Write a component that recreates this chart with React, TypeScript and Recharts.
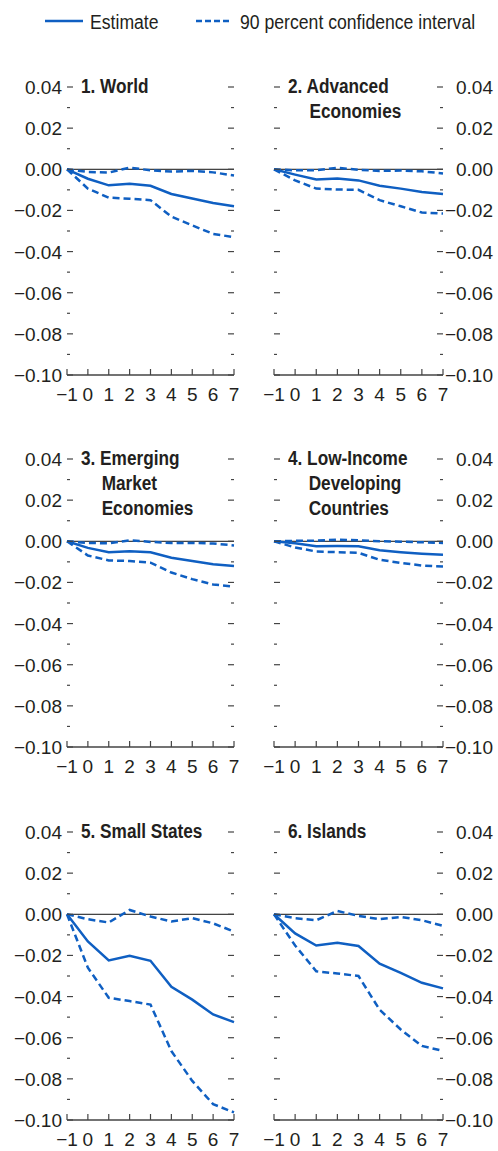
import { Line, LineChart, ReferenceLine, XAxis, YAxis } from 'recharts';

const HORIZON = [-1, 0, 1, 2, 3, 4, 5, 6, 7];
const Y_TICKS = [-0.1, -0.09, -0.08, -0.07, -0.06, -0.05, -0.04, -0.03, -0.02, -0.01, 0, 0.01, 0.02, 0.03, 0.04];

const WORLD_EST = [0, -0.0046, -0.0078, -0.007, -0.008, -0.012, -0.0142, -0.0164, -0.018];
const WORLD_LO = [0, -0.0094, -0.0138, -0.0143, -0.015, -0.023, -0.0273, -0.0314, -0.033];
const WORLD_HI = [0, -0.0013, -0.0016, 0.0008, -0.0005, -0.0011, -0.0008, -0.0015, -0.003];

const AE_EST = [0, -0.0026, -0.005, -0.0045, -0.0054, -0.008, -0.0094, -0.011, -0.012];
const AE_LO = [0, -0.0054, -0.0094, -0.0098, -0.01, -0.015, -0.018, -0.021, -0.0215];
const AE_HI = [0, -0.0005, -0.0005, 0.0007, -0.0002, -0.0008, -0.0006, -0.001, -0.002];

const EM_EST = [0, -0.0032, -0.0053, -0.0048, -0.0053, -0.008, -0.0096, -0.0112, -0.012];
const EM_LO = [0, -0.0069, -0.0093, -0.0096, -0.0104, -0.0152, -0.0184, -0.021, -0.022];
const EM_HI = [0, -0.0008, -0.001, 0.0005, -0.0003, -0.0008, -0.0008, -0.0011, -0.002];

const LIDC_EST = [0, -0.001, -0.0024, -0.0023, -0.0024, -0.0044, -0.0053, -0.006, -0.0066];
const LIDC_LO = [0, -0.003, -0.005, -0.0053, -0.0056, -0.009, -0.0105, -0.0118, -0.0123];
const LIDC_HI = [0, 0.0002, 0.0003, 0.0008, 0.0005, 0, -0.0002, -0.0005, -0.0008];

const SMALL_EST = [0, -0.0132, -0.0224, -0.0202, -0.0226, -0.0353, -0.0415, -0.0487, -0.0524];
const SMALL_LO = [0, -0.026, -0.0406, -0.0422, -0.0439, -0.0665, -0.081, -0.0923, -0.0963];
const SMALL_HI = [0, -0.0024, -0.004, 0.0021, -0.0011, -0.0035, -0.0019, -0.0044, -0.0084];

const ISL_EST = [0, -0.0093, -0.0152, -0.0138, -0.0154, -0.024, -0.0285, -0.0333, -0.036];
const ISL_LO = [0, -0.0152, -0.0277, -0.0288, -0.03, -0.0464, -0.056, -0.064, -0.0664];
const ISL_HI = [0, -0.0019, -0.0029, 0.0016, -0.0008, -0.0024, -0.0013, -0.0029, -0.0056];

const TITLES = [
  ['1. World'],
  ['2. Advanced', 'Economies'],
  ['3. Emerging', 'Market', 'Economies'],
  ['4. Low-Income', 'Developing', 'Countries'],
  ['5. Small States'],
  ['6. Islands'],
];

const LEGEND_EST = 'Estimate';
const LEGEND_CI = '90 percent confidence interval';

const BLUE = '#0f5fc2';
const INK = '#231f20';
const FONT = '"Liberation Sans", Arial, sans-serif';
// no narrow face installed, so squeeze Liberation Sans horizontally
const SQUEEZE = 0.84;

const MARGIN_TOP = 27;
const PLOT_H = 288;
const X_AXIS_H = 30;
const ROW_PLOT_TOPS = [87, 459, 832];

const fmt = (v: number) => {
  const s = Math.abs(v).toFixed(2);
  return v < -1e-9 ? '\u2212' + s : s;
};
const isMajor = (v: number) => Math.round(v * 100) % 2 === 0;

interface PanelProps {
  idx: number;
  est: number[];
  lo: number[];
  hi: number[];
}

function Panel({ idx, est, lo, hi }: PanelProps) {
  const col = idx % 2;
  const row = Math.floor(idx / 2);
  const left = col === 0 ? 0 : 250;
  const width = col === 0 ? 250 : 248;
  const leftW = col === 0 ? 67 : 24;
  const plotW = col === 0 ? 167 : 169;
  const rightW = width - leftW - plotW;
  const plotL = leftW;
  const plotR = leftW + plotW;
  const plotB = MARGIN_TOP + PLOT_H;
  const top = ROW_PLOT_TOPS[row] - MARGIN_TOP;
  const height = MARGIN_TOP + PLOT_H + X_AXIS_H;

  const data = HORIZON.map((t, i) => ({ t, est: est[i], lo: lo[i], hi: hi[i] }));

  const yTick = (side: 'left' | 'right', labelled: boolean) => (props: any) => {
    const { y, payload } = props;
    const v = payload.value as number;
    const len = isMajor(v) ? 6 : 3;
    const x0 = side === 'left' ? plotL : plotR;
    const x1 = side === 'left' ? plotL + len : plotR - len;
    return (
      <g>
        <line x1={x0} x2={x1} y1={y} y2={y} stroke="#444" strokeWidth={1.2} />
        {labelled && isMajor(v) && (
          <text
            x={side === 'left' ? plotL - 5 : width - 5}
            y={y}
            dy={7}
            textAnchor="end"
            fontSize={19}
            fontFamily={FONT}
            fill={INK}
          >
            {fmt(v)}
          </text>
        )}
      </g>
    );
  };

  const xTick = (props: any) => {
    const { x, payload } = props;
    return (
      <g>
        <line x1={x} x2={x} y1={plotB} y2={plotB - 6} stroke="#444" strokeWidth={1.2} />
        <text x={x} y={plotB + 26} textAnchor="middle" fontSize={19} fontFamily={FONT} fill={INK}>
          {payload.value < 0 ? '\u2212' + Math.abs(payload.value) : payload.value}
        </text>
      </g>
    );
  };

  const title = TITLES[idx];
  const titleLeft = col === 0 ? 81 : 288;
  const indent = idx === 1 ? 25 : 24;

  return (
    <div style={{ position: 'absolute', left, top, width, height }}>
      <LineChart width={width} height={height} data={data} margin={{ top: MARGIN_TOP, right: 0, bottom: 0, left: 0 }}>
        <XAxis
          dataKey="t"
          type="number"
          domain={[-1, 7]}
          ticks={HORIZON}
          interval={0}
          height={X_AXIS_H}
          tickLine={false}
          axisLine={{ stroke: '#444', strokeWidth: 1.5 }}
          tick={xTick}
        />
        <YAxis
          yAxisId="l"
          orientation="left"
          width={leftW}
          domain={[-0.1, 0.04]}
          ticks={Y_TICKS}
          interval={0}
          allowDataOverflow
          tickLine={false}
          axisLine={false}
          tick={yTick('left', col === 0)}
        />
        <YAxis
          yAxisId="r"
          orientation="right"
          width={rightW}
          domain={[-0.1, 0.04]}
          ticks={Y_TICKS}
          interval={0}
          allowDataOverflow
          tickLine={false}
          axisLine={false}
          tick={yTick('right', col === 1)}
        />
        <ReferenceLine yAxisId="l" y={0} stroke="#111" strokeWidth={1} />
        <Line yAxisId="l" dataKey="hi" type="linear" stroke={BLUE} strokeWidth={2.5} strokeDasharray="7 4" dot={false} isAnimationActive={false} />
        <Line yAxisId="l" dataKey="lo" type="linear" stroke={BLUE} strokeWidth={2.5} strokeDasharray="7 4" dot={false} isAnimationActive={false} />
        <Line yAxisId="l" dataKey="est" type="linear" stroke={BLUE} strokeWidth={2.5} dot={false} isAnimationActive={false} />
      </LineChart>
      <div
        style={{
          position: 'absolute',
          left: titleLeft - left,
          top: ROW_PLOT_TOPS[row] - top - 13,
          fontFamily: FONT,
          fontWeight: 'bold',
          fontSize: 20,
          lineHeight: '25px',
          color: INK,
          whiteSpace: 'nowrap',
          transform: `scaleX(${SQUEEZE + 0.02})`,
          transformOrigin: '0 0',
        }}
      >
        {title.map((t, i) => (
          <div key={t} style={{ paddingLeft: i === 0 ? 0 : indent }}>
            {t}
          </div>
        ))}
      </div>
    </div>
  );
}

export default function App() {
  const panels = [
    [WORLD_EST, WORLD_LO, WORLD_HI],
    [AE_EST, AE_LO, AE_HI],
    [EM_EST, EM_LO, EM_HI],
    [LIDC_EST, LIDC_LO, LIDC_HI],
    [SMALL_EST, SMALL_LO, SMALL_HI],
    [ISL_EST, ISL_LO, ISL_HI],
  ];
  return (
    <div style={{ position: 'absolute', left: 0, top: 0, width: 498, height: 1151, overflow: 'hidden', background: '#fff' }}>
      <svg width={498} height={40} style={{ position: 'absolute', left: 0, top: 0 }}>
        <line x1={45} x2={83} y1={21} y2={21} stroke={BLUE} strokeWidth={2.5} />
        <text transform={`translate(90,29) scale(${SQUEEZE},1)`} fontSize={21} fontFamily={FONT} fill={INK}>
          {LEGEND_EST}
        </text>
        <line x1={196} x2={231} y1={21} y2={21} stroke={BLUE} strokeWidth={2.5} strokeDasharray="6 3" />
        <text transform={`translate(240,29) scale(${SQUEEZE},1)`} fontSize={21} fontFamily={FONT} fill={INK}>
          {LEGEND_CI}
        </text>
      </svg>
      {panels.map(([e, l, h], i) => (
        <Panel key={i} idx={i} est={e} lo={l} hi={h} />
      ))}
    </div>
  );
}
